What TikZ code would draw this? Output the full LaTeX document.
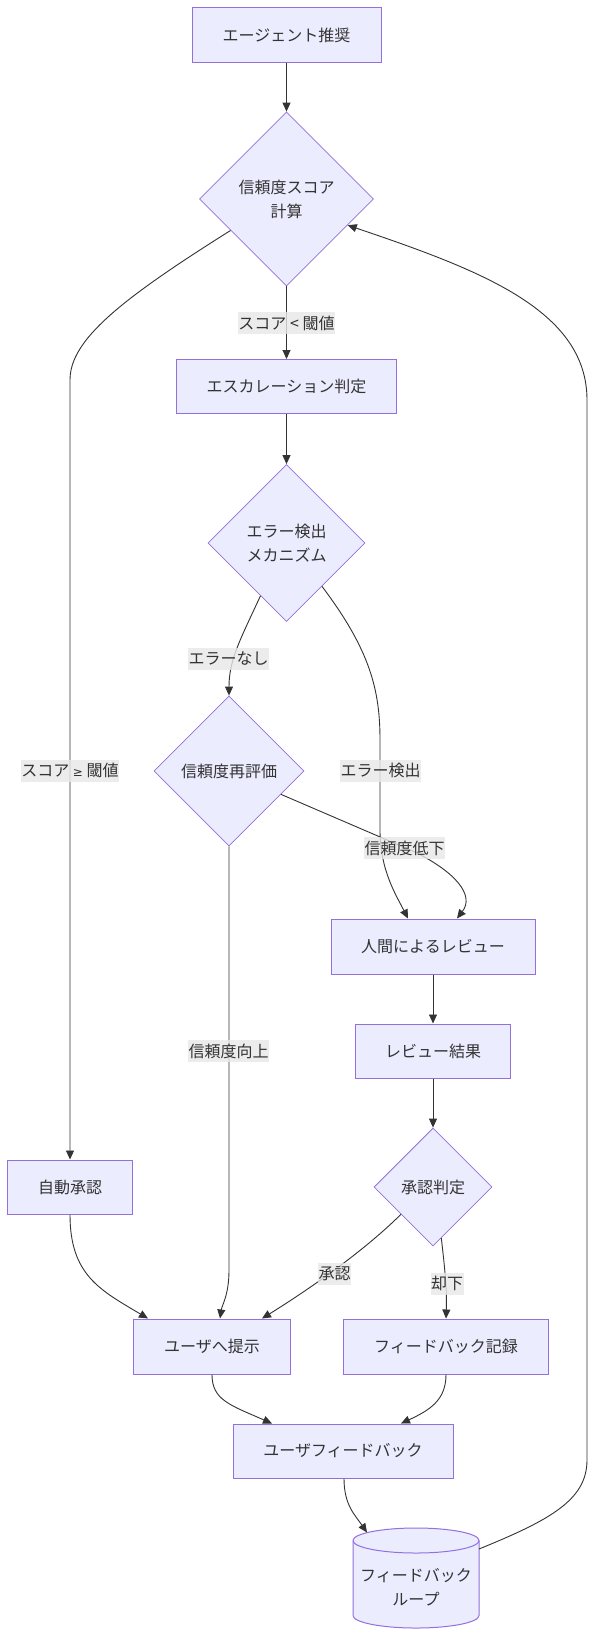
\documentclass[tikz,border=0pt]{standalone}
\usepackage{fontspec}
\setmainfont{Noto Sans CJK JP}
\newfontfamily\mysymfont{DejaVu Sans}
\usetikzlibrary{shapes.geometric,arrows.meta,calc}
\definecolor{nodefill}{HTML}{ECECFF}
\definecolor{nodeline}{HTML}{9370DB}
\definecolor{edgecol}{HTML}{333333}
\definecolor{lblbg}{HTML}{E8E8E8}
\definecolor{txt}{HTML}{333333}
\tikzset{
  box/.style={rectangle, draw=nodeline, fill=nodefill, line width=1pt, inner sep=0pt,
    text=txt, font=\fontsize{16}{24}\selectfont, align=center},
  dia/.style={diamond, aspect=1, draw=nodeline, fill=nodefill, line width=0.8pt, inner sep=0pt,
    text=txt, font=\fontsize{16}{24}\selectfont, align=center},
  lbl/.style={rectangle, fill=lblbg, fill opacity=0.8, text opacity=1, text=txt, inner xsep=0.5pt, inner ysep=0pt,
    minimum height=22pt, font=\fontsize{16}{24}\selectfont},
  arr/.style={draw=edgecol, line width=0.9pt, -{Triangle[length=9pt,width=8pt]}},
  plain/.style={text=txt, font=\fontsize{16}{24}\selectfont, align=center, inner sep=0pt}
}
\begin{document}
\begin{tikzpicture}[x=1pt,y=1pt]
\useasboundingbox[fill=white] (0,0) rectangle (595,-1637);

% nodes
\node[box, minimum width=189pt, minimum height=55pt] (A) at (286.5,-35) {エージェント推奨};
\node[dia, minimum width=174pt, minimum height=174pt] (B) at (286.5,-199) {信頼度スコア\\計算};
\node[box, minimum width=220pt, minimum height=54pt] (C) at (286.5,-386.5) {エスカレーション判定};
\node[dia, minimum width=157pt, minimum height=157pt] (D) at (286.5,-543) {エラー検出\\メカニズム};
\node[dia, minimum width=150pt, minimum height=150pt] (E) at (229,-771) {信頼度再評価};
\node[box, minimum width=204pt, minimum height=55pt] (F) at (433,-946.5) {人間によるレビュー};
\node[box, minimum width=155pt, minimum height=54pt] (G) at (433,-1051) {レビュー結果};
\node[dia, minimum width=118pt, minimum height=118pt] (H) at (433,-1187) {承認判定};
\node[box, minimum width=125pt, minimum height=54pt] (I) at (70,-1187) {自動承認};
\node[box, minimum width=157pt, minimum height=55pt] (J) at (212,-1346.5) {ユーザへ提示};
\node[box, minimum width=205pt, minimum height=55pt] (K) at (446,-1346.5) {フィードバック記録};
\node[box, minimum width=220pt, minimum height=54pt] (L) at (343,-1451) {ユーザフィードバック};

% cylinder
\coordinate (M) at (416,-1587.5);
\fill[nodefill] ($(M)+(-63,47)$) -- ($(M)+(-63,-28)$) arc (180:360:63pt and 12.5pt) -- ($(M)+(63,47)$) arc (0:180:63pt and 12.5pt) -- cycle;
\draw[nodeline, line width=1pt] ($(M)+(-63,47)$) -- ($(M)+(-63,-28)$) arc (180:360:63pt and 12.5pt) -- ($(M)+(63,47)$) arc (0:180:63pt and 12.5pt) -- cycle;
\draw[nodeline, line width=1pt] ($(M)+(-63,47)$) arc (180:360:63pt and 12.5pt);
\node[plain] (Mtext) at (M) {フィードバック\\ループ};
\coordinate (Min) at ($(M)+(-49,55)$);
\coordinate (Mout) at ($(M)+(63,38.5)$);

% connectors
\draw[arr] (A) -- (B);
\draw[arr] (B) -- (C);
\draw[arr] ($(B.west)!0.36!(B.south)$) .. controls (120,-300) and (70,-340) .. (70,-380) -- (I.north);
\draw[arr] (C) -- (D);
\draw[arr] ($(D.west)!0.67!(D.south)$) .. controls (240,-640) and (229,-660) .. (E.north);
\draw[arr] ($(D.east)!0.55!(D.south)$) .. controls (370,-650) and (380,-690) .. (380,-740) -- (380,-830) .. controls (380,-870) and (396,-895) .. ([xshift=-25pt]F.north);
\draw[arr] ($(E.east)!0.31!(E.south)$) -- (415,-852) .. controls (455,-872) and (475,-895) .. ([xshift=24pt]F.north);
\draw[arr] (E.south) -- (229,-1270) .. controls (229,-1295) and (222,-1305) .. ([xshift=8pt]J.north);
\draw[arr] (F) -- (G);
\draw[arr] (G) -- (H);
\draw[arr] ($(H.west)!0.46!(H.south)$) .. controls (360,-1255) and (300,-1295) .. ([xshift=50pt]J.north);
\draw[arr] ($(H.east)!0.86!(H.south)$) .. controls (445,-1270) and (447,-1290) .. (K.north);
\draw[arr] (I.south) .. controls (70,-1275) and (100,-1290) .. ([xshift=-64pt]J.north);
\draw[arr] (J.south) .. controls (212,-1400) and (230,-1405) .. ([xshift=-71pt]L.north);
\draw[arr] (K.south) .. controls (446,-1400) and (430,-1410) .. ([xshift=58pt]L.north);
\draw[arr] ([xshift=1pt]L.south) .. controls (344,-1505) and (355,-1515) .. (Min);
\draw[arr] (Mout) .. controls (550,-1520) and (587,-1500) .. (587,-1460) -- (587,-400) .. controls (587,-310) and (480,-270) .. ($(B.east)!0.3!(B.south)$);

% edge labels
\node[lbl] (l1) at (286.5,-323) {スコア < 閾値};
\node[lbl] (l2) at (70,-770.5) {スコア {\mysymfont\fontsize{12}{12}\selectfont ≥} 閾値};
\node[lbl] (l3) at (228.5,-658.5) {エラーなし};
\node[lbl] (l4) at (380.5,-770.5) {エラー検出};
\node[lbl] (l5) at (404.5,-848) {信頼度低下};
\node[lbl] (l6) at (228.5,-1051) {信頼度向上};
\node[lbl] (l7) at (334.5,-1273.5) {承認};
\node[lbl] (l8) at (447,-1283.5) {却下};
\end{tikzpicture}
\end{document}
